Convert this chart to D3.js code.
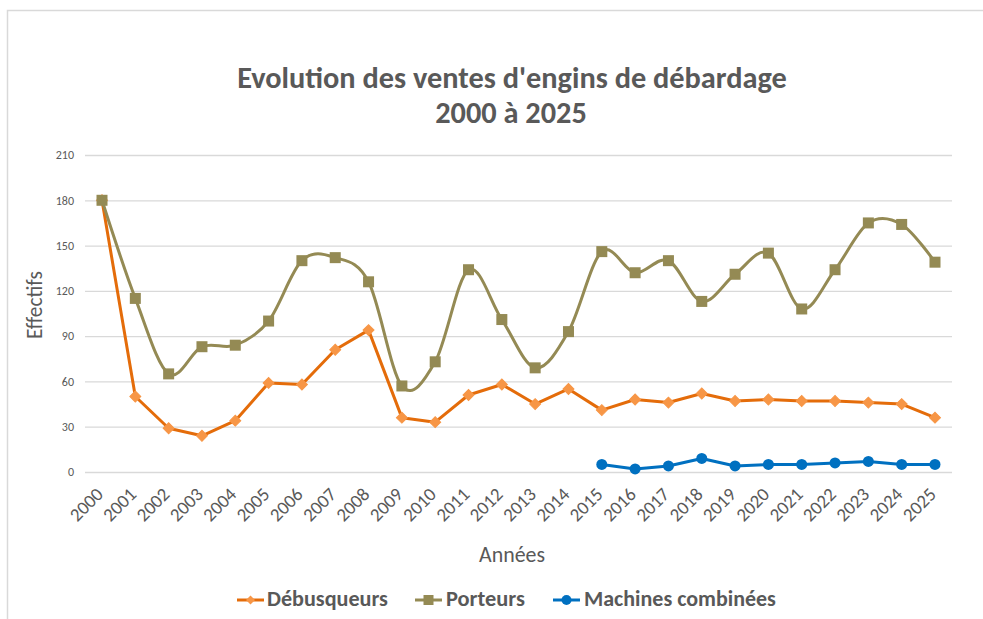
<!DOCTYPE html>
<html>
<head>
<meta charset="utf-8">
<script src="https://cdn.jsdelivr.net/npm/d3@7"></script>
<style>
  html, body { margin: 0; padding: 0; background: #fff; }
  svg { display: block; }
  text { font-family: Carlito, Lato, "Open Sans", sans-serif; }
</style>
</head>
<body>
<svg id="chart" width="983" height="619"></svg>
<script>
const years = ["2000","2001","2002","2003","2004","2005","2006","2007","2008","2009","2010","2011","2012","2013","2014","2015","2016","2017","2018","2019","2020","2021","2022","2023","2024","2025"];
const debusqueurs = [180,50,29,24,34,59,58,81,94,36,33,51,58,45,55,41,48,46,52,47,48,47,47,46,45,36];
const porteurs = [180,115,65,83,84,100,140,142,126,57,73,134,101,69,93,146,132,140,113,131,145,108,134,165,164,139];
const machinesYears = ["2015","2016","2017","2018","2019","2020","2021","2022","2023","2024","2025"];
const machines = [5,2,4,9,4,5,5,6,7,5,5];
const yTicks = [0,30,60,90,120,150,180,210];
const titleLines = ["Evolution des ventes d'engins de débardage", "2000 à 2025"];
const seriesNames = ["Débusqueurs", "Porteurs", "Machines combinées"];

const svg = d3.select("#chart");
const grey = "#595959";
const FONT = "Carlito, Lato, 'Open Sans', sans-serif";

// chart border
svg.append("rect").attr("x", 7.5).attr("y", 10.5).attr("width", 1000).attr("height", 700)
  .attr("fill", "#fff").attr("stroke", "#d9d9d9").attr("stroke-width", 1.5);

const x = d3.scalePoint().domain(years).range([102, 935]);
const y = d3.scaleLinear().domain([0, 210]).range([472, 155]);

function fit(sel, target) {
  const w = sel.node().getComputedTextLength();
  const fs = parseFloat(sel.attr("font-size"));
  sel.attr("font-size", fs * target / w);
  return fs * target / w;
}

// title
const t1 = svg.append("text").attr("x", 512).attr("y", 88).attr("text-anchor", "middle")
  .attr("font-size", 27).attr("font-weight", "bold").attr("fill", grey).text(titleLines[0]);
fit(t1, 550);
svg.append("text").attr("x", 511).attr("y", 123).attr("text-anchor", "middle")
  .attr("font-size", t1.attr("font-size")).attr("font-weight", "bold").attr("fill", grey).text(titleLines[1]);

// gridlines
const yAxis = d3.axisLeft(y).tickValues(yTicks).tickSize(-(952 - 85)).tickPadding(11);
const gy = svg.append("g").attr("transform", "translate(85,0)").call(yAxis);
gy.select(".domain").remove();
gy.selectAll(".tick line").attr("stroke", "#d9d9d9").attr("stroke-width", 1.3);
gy.selectAll(".tick text").attr("fill", grey).attr("font-size", 12).style("font-family", FONT);

// x axis labels
const xAxis = d3.axisBottom(x).tickSize(0).tickPadding(0);
const gx = svg.append("g").attr("transform", "translate(0,472)").call(xAxis);
gx.select(".domain").remove();
const xt = gx.selectAll(".tick text");
xt.attr("fill", grey).attr("font-size", 16).style("font-family", FONT);
const xfs = 16 * 38 / xt.node().getComputedTextLength();
xt.attr("font-size", xfs)
  .attr("text-anchor", "end").attr("dy", "0.35em")
  .attr("transform", "translate(-3,19) rotate(-45)");

// axis titles
const at = svg.append("text").attr("x", 512).attr("y", 562).attr("text-anchor", "middle")
  .attr("font-size", 17).attr("fill", grey).text("Années");
fit(at, 66);
const et = svg.append("text").attr("transform", "translate(42,305) rotate(-90)").attr("text-anchor", "middle")
  .attr("font-size", 17).attr("fill", grey).text("Effectifs");
fit(et, 68);

const orangeLine = "#e46c0a", orangeMark = "#f79646";
const olive = "#948a54";
const blue = "#0070c0";

const debData = years.map((yr, i) => ({ yr, v: debusqueurs[i] }));
const porData = years.map((yr, i) => ({ yr, v: porteurs[i] }));
const macData = machinesYears.map((yr, i) => ({ yr, v: machines[i] }));

const lineLin = d3.line().x(d => x(d.yr)).y(d => y(d.v));
const lineSmooth = d3.line().x(d => x(d.yr)).y(d => y(d.v)).curve(d3.curveCatmullRom.alpha(0));

// Débusqueurs
svg.append("path").datum(debData).attr("d", lineLin).attr("fill", "none")
  .attr("stroke", orangeLine).attr("stroke-width", 3).attr("stroke-linejoin", "round");
svg.append("g").selectAll("path").data(debData).join("path")
  .attr("d", d3.symbol().type(d3.symbolSquare).size(60))
  .attr("transform", d => `translate(${x(d.yr)},${y(d.v)}) rotate(45)`)
  .attr("fill", orangeMark).attr("stroke", orangeMark).attr("stroke-width", 1);

// Porteurs
svg.append("path").datum(porData).attr("d", lineSmooth).attr("fill", "none")
  .attr("stroke", olive).attr("stroke-width", 3);
svg.append("g").selectAll("rect").data(porData).join("rect")
  .attr("x", d => x(d.yr) - 5.5).attr("y", d => y(d.v) - 5.5)
  .attr("width", 11).attr("height", 11).attr("fill", olive);

// Machines combinées
svg.append("path").datum(macData).attr("d", lineLin).attr("fill", "none")
  .attr("stroke", blue).attr("stroke-width", 3).attr("stroke-linejoin", "round");
svg.append("g").selectAll("circle").data(macData).join("circle")
  .attr("cx", d => x(d.yr)).attr("cy", d => y(d.v)).attr("r", 5.5).attr("fill", blue);

// legend
const legend = [
  { name: seriesNames[0], x0: 237, tx: 267, tw: 121, line: orangeLine, mark: orangeMark, type: "diamond" },
  { name: seriesNames[1], x0: 415, tx: 446, tw: 79, line: olive, mark: olive, type: "square" },
  { name: seriesNames[2], x0: 553, tx: 584, tw: 192, line: blue, mark: blue, type: "circle" }
];
const ly = 600;
legend.forEach(l => {
  const g = svg.append("g");
  g.append("line").attr("x1", l.x0).attr("x2", l.x0 + 27).attr("y1", ly).attr("y2", ly)
    .attr("stroke", l.line).attr("stroke-width", 3);
  const cx = l.x0 + 13.5;
  if (l.type === "diamond") {
    g.append("path").attr("d", d3.symbol().type(d3.symbolSquare).size(40)())
      .attr("transform", `translate(${cx},${ly}) rotate(45)`).attr("fill", l.mark);
  } else if (l.type === "square") {
    g.append("rect").attr("x", cx - 5).attr("y", ly - 5).attr("width", 10).attr("height", 10).attr("fill", l.mark);
  } else {
    g.append("circle").attr("cx", cx).attr("cy", ly).attr("r", 5).attr("fill", l.mark);
  }
  const t = g.append("text").attr("x", l.tx).attr("y", ly + 6).attr("font-size", 18)
    .attr("font-weight", "bold").attr("fill", grey).text(l.name);
  fit(t, l.tw);
});
</script>
</body>
</html>
